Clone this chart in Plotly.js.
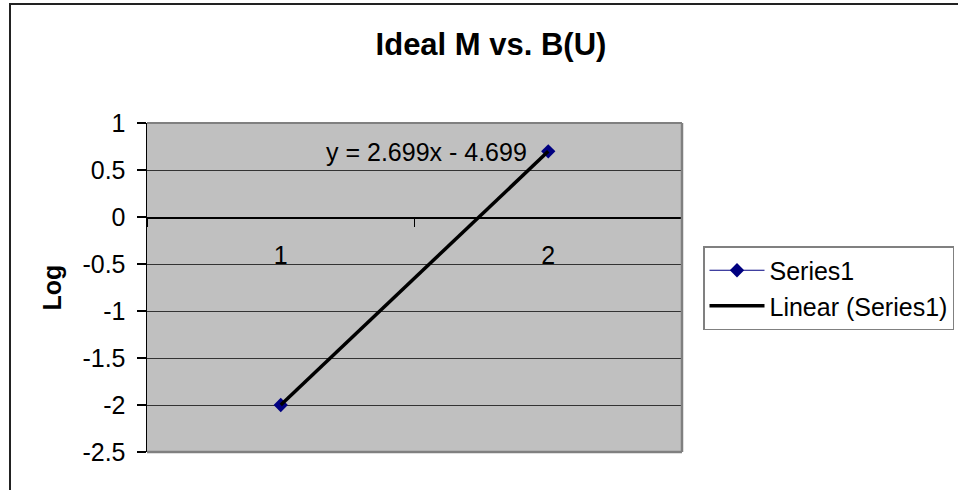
<!DOCTYPE html>
<html>
<head>
<meta charset="utf-8">
<script src="https://cdn.plot.ly/plotly-3.0.1.min.js"></script>
<style>
html,body{margin:0;padding:0;background:#fff;overflow:hidden;}
#wrap{position:relative;width:958px;height:490px;}
#chart{position:absolute;left:0;top:0;width:958px;height:490px;}
#frame{position:absolute;left:9px;top:3px;width:980px;height:520px;border:2px solid #222;pointer-events:none;}
</style>
</head>
<body>
<div id="wrap">
<div id="chart"></div>
<div id="frame"></div>
</div>
<script>
// ---- data ----
const categories = ['1', '2'];
const series1 = [-2, 0.699];
const trendSlope = 2.699;
const trendIntercept = -4.699;
const trendValues = categories.map((c, i) => trendSlope * (i + 1) + trendIntercept);
const yTickVals = [-2.5, -2, -1.5, -1, -0.5, 0, 0.5, 1];
const yTickText = ['-2.5', '-2', '-1.5', '-1', '-0.5', '0', '0.5', '1'];
const chartTitle = 'Ideal M vs. B(U)';
const yTitle = 'Log';
const equationText = 'y = 2.699x - 4.699';

const yMin = -2.5, yMax = 1;
const FONT = 'Arial, "Liberation Sans", sans-serif';

const traces = [
  {
    x: categories, y: series1, type: 'scatter', mode: 'lines+markers',
    name: 'Series1',
    line: {color: '#000080', width: 1.2},
    marker: {symbol: 'diamond', size: 11, color: '#000080'}
  },
  {
    x: categories, y: trendValues, type: 'scatter', mode: 'lines',
    name: 'Linear (Series1)',
    line: {color: '#000000', width: 3.5}
  }
];

const layout = {
  width: 958, height: 490,
  margin: {l: 147, r: 276, t: 123, b: 38},
  paper_bgcolor: '#ffffff',
  plot_bgcolor: '#c0c0c0',
  font: {family: FONT, size: 25, color: '#000'},
  title: {
    text: '<b>' + chartTitle + '</b>',
    font: {family: FONT, size: 31, color: '#000'},
    xref: 'container', x: 491 / 958, xanchor: 'center',
    yref: 'container', y: 1 - 44 / 490, yanchor: 'middle'
  },
  xaxis: {
    type: 'category',
    range: [-0.5, 1.5],
    anchor: 'free',
    position: (0 - yMin) / (yMax - yMin),
    showline: true, linecolor: '#000', linewidth: 1.5,
    ticks: 'outside', ticklen: 8, tickwidth: 1.2, tickcolor: '#000',
    tickson: 'boundaries',
    showgrid: false, zeroline: false,
    tickfont: {family: FONT, size: 25, color: '#000'},
    ticklabelstandoff: 15,
    automargin: false,
    fixedrange: true
  },
  yaxis: {
    range: [yMin, yMax],
    tickvals: yTickVals, ticktext: yTickText,
    showline: true, linecolor: '#000', linewidth: 1.5,
    ticks: 'outside', ticklen: 9, tickwidth: 1.2, tickcolor: '#000',
    showgrid: true, gridcolor: '#333333', gridwidth: 1,
    zeroline: false,
    tickfont: {family: FONT, size: 25, color: '#000'},
    ticklabelstandoff: 6,
    title: {text: '<b>' + yTitle + '</b>', font: {family: FONT, size: 25, color: '#000'}, standoff: 13},
    automargin: false,
    fixedrange: true
  },
  shapes: [
    {type: 'line', xref: 'paper', yref: 'paper', x0: 0, x1: 1, y0: 1, y1: 1, line: {color: '#808080', width: 2}, layer: 'above'},
    {type: 'line', xref: 'paper', yref: 'paper', x0: 1, x1: 1, y0: 0, y1: 1, line: {color: '#808080', width: 2.5}, layer: 'above'},
    {type: 'line', xref: 'paper', yref: 'paper', x0: 0, x1: 1, y0: 0, y1: 0, line: {color: '#808080', width: 2.5}, layer: 'above'}
  ],
  annotations: [
    {text: equationText, xref: 'paper', yref: 'paper', x: (426 - 147) / 535, y: (452 - 152) / 329,
     xanchor: 'center', yanchor: 'middle', showarrow: false,
     font: {family: FONT, size: 25, color: '#000'}}
  ],
  showlegend: true,
  legend: {
    xref: 'container', yref: 'container',
    x: 703 / 958, xanchor: 'left',
    y: 1 - 246 / 490, yanchor: 'top',
    bgcolor: '#ffffff', bordercolor: '#808080', borderwidth: 1.5,
    font: {family: FONT, size: 25, color: '#000'},
    itemwidth: 55
  }
};

Plotly.newPlot('chart', traces, layout, {displayModeBar: false, staticPlot: true});
</script>
</body>
</html>
